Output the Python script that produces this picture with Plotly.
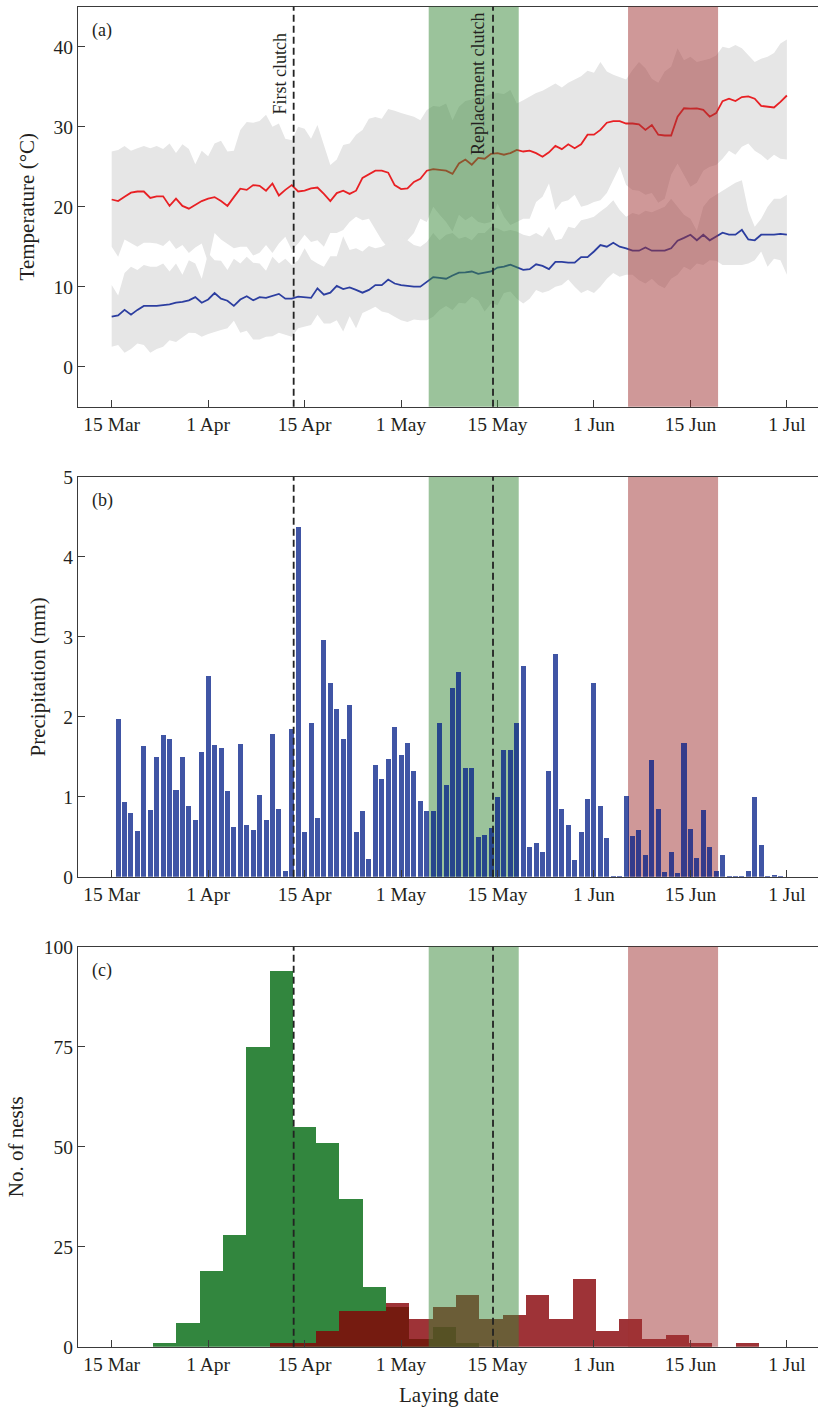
import plotly.graph_objects as go

W, H = 818, 1409

# ---------------- data ----------------
# day index from 15 Mar (0) to day 105
days = list(range(106))
tick_days = [0, 15, 30, 45, 60, 75, 90, 105]
tick_labels = ["15 Mar", "1 Apr", "15 Apr", "1 May", "15 May", "1 Jun", "15 Jun", "1 Jul"]

tmax_mean = [20.9, 20.7, 21.25, 21.75, 21.9, 21.9, 21.1, 21.3, 21.3, 20.1,
             21.0, 20.1, 19.75, 20.2, 20.7, 21.0, 21.2, 20.7, 20.1, 21.2,
             22.25, 22.1, 22.7, 22.6, 22.0, 22.9, 21.4, 22.1, 22.7, 21.9,
             22.0, 22.3, 22.4, 21.6, 20.7, 21.7, 22.0, 21.6, 22.0, 23.6,
             24.0, 24.5, 24.5, 24.25, 22.7, 22.2, 22.3, 23.1, 23.5, 24.5,
             24.7, 24.6, 24.5, 24.1, 25.4, 25.9, 25.25, 26.1, 26.0, 26.6,
             26.7, 26.5, 26.7, 27.1, 26.9, 27.0, 26.7, 26.25, 26.8, 27.6,
             27.2, 27.8, 27.3, 27.8, 29.0, 29.0, 29.6, 30.5, 30.7, 30.7,
             30.4, 30.4, 30.3, 29.6, 30.2, 29.0, 28.9, 28.9, 31.25, 32.3,
             32.25, 32.3, 32.1, 31.25, 31.7, 33.2, 33.5, 33.2, 33.7, 33.8,
             33.5, 32.6, 32.5, 32.4, 33.1, 33.9]

tmin_mean = [6.25, 6.4, 7.1, 6.5, 7.1, 7.6, 7.6, 7.6, 7.7, 7.8,
             8.0, 8.1, 8.3, 8.7, 8.0, 8.4, 9.2, 8.5, 8.25, 7.6,
             8.4, 8.8, 8.3, 8.7, 8.6, 8.9, 9.1, 8.5, 8.5, 8.75,
             8.7, 8.6, 9.8, 9.0, 9.25, 10.1, 9.7, 9.9, 9.6, 9.25,
             9.6, 10.2, 10.2, 10.9, 10.4, 10.2, 10.1, 10.0, 10.0, 10.6,
             11.2, 11.1, 11.0, 11.4, 11.75, 11.8, 11.9, 11.6, 11.75, 11.9,
             12.4, 12.5, 12.75, 12.4, 12.1, 12.2, 12.8, 12.6, 12.2, 13.1,
             13.1, 13.0, 13.0, 13.7, 13.7, 14.4, 15.2, 15.0, 15.5, 15.0,
             14.8, 14.5, 14.5, 14.9, 14.5, 14.5, 14.5, 14.8, 15.75, 16.1,
             16.5, 15.8, 16.5, 15.8, 16.3, 16.75, 16.5, 16.5, 17.1, 15.9,
             15.8, 16.5, 16.5, 16.5, 16.6, 16.5]

tmax_upper = [26.9, 27.1, 27.6, 27.0, 27.3, 27.6, 27.3, 27.6, 27.2, 27.9,
              26.7, 27.8, 27.2, 25.3, 27.0, 26.3, 27.9, 28.25, 26.9, 27.0,
              29.6, 30.6, 30.5, 30.7, 31.5, 30.0, 30.4, 28.5, 28.3, 30.0,
              29.75, 28.5, 30.2, 27.7, 25.2, 25.9, 27.7, 27.9, 29.0, 29.6,
              31.0, 31.2, 31.0, 32.2, 32.0, 31.7, 31.5, 31.25, 30.8, 32.1,
              32.6, 32.5, 32.9, 30.8, 32.5, 33.2, 33.4, 33.75, 33.75, 34.1,
              34.2, 34.1, 34.6, 32.9, 33.3, 33.75, 34.2, 34.5, 34.9, 35.4,
              34.9, 35.5, 35.9, 36.3, 37.0, 36.75, 38.1, 36.9, 36.5, 36.2,
              35.9, 37.1, 38.1, 37.3, 36.0, 35.5, 36.9, 37.5, 39.8, 38.3,
              38.75, 38.1, 38.3, 38.5, 38.9, 40.0, 39.8, 40.2, 39.8, 38.9,
              38.1, 38.5, 38.75, 39.2, 40.4, 40.9]

tmax_lower = [15.0, 13.75, 15.9, 15.5, 15.0, 15.5, 15.5, 15.4, 15.1, 15.8,
              14.7, 15.2, 14.2, 14.9, 15.4, 13.0, 16.7, 15.9, 15.4, 14.8,
              15.0, 15.0, 13.9, 14.25, 15.2, 14.2, 15.4, 16.25, 14.6, 15.4,
              16.5, 15.6, 15.8, 15.0, 16.7, 16.7, 17.1, 18.1, 18.75, 18.3,
              18.5, 17.1, 15.8, 14.8, 15.5, 15.8, 15.8, 16.7, 18.5, 18.1,
              20.0, 19.0, 18.1, 16.9, 19.0, 18.3, 18.8, 18.1, 17.9, 18.1,
              20.4, 18.75, 17.7, 18.1, 18.5, 18.5, 20.6, 21.25, 22.9, 19.6,
              20.6, 20.8, 21.5, 20.0, 20.2, 20.6, 20.8, 21.7, 23.3, 25.0,
              22.7, 22.1, 22.0, 21.5, 21.7, 20.5, 21.0, 24.0, 25.4, 24.0,
              22.5, 23.0, 24.5, 25.0, 25.2, 26.0, 27.0, 26.5, 27.5, 27.9,
              27.0, 26.5, 25.8, 26.5, 26.0, 25.9]

tmin_upper = [10.2, 8.9, 11.7, 12.5, 12.1, 12.7, 12.5, 12.5, 12.9, 11.9,
              12.9, 11.5, 13.3, 12.9, 11.0, 14.2, 13.3, 13.25, 12.1, 13.5,
              12.9, 13.75, 13.0, 12.9, 12.0, 13.75, 12.9, 13.5, 12.7, 13.3,
              14.8, 13.4, 12.9, 12.5, 13.8, 13.8, 16.3, 14.6, 14.8, 14.4,
              15.1, 14.8, 15.0, 15.4, 15.8, 16.3, 15.8, 15.2, 15.0, 15.6,
              16.7, 15.8, 16.5, 16.7, 16.0, 16.25, 15.8, 16.7, 16.7, 17.5,
              17.3, 16.9, 17.1, 16.9, 16.5, 16.3, 16.7, 16.25, 17.5, 15.8,
              16.0, 17.5, 17.3, 18.3, 18.5, 18.75, 19.4, 20.0, 20.8, 19.6,
              18.75, 19.2, 19.0, 19.5, 19.3, 19.6, 20.0, 21.0, 20.0, 19.0,
              18.5, 17.0, 20.0, 21.0, 21.5, 22.0, 22.5, 23.0, 23.3, 19.5,
              17.5, 18.5, 20.0, 21.0, 21.0, 21.5]

tmin_lower = [2.5, 2.7, 1.75, 2.2, 2.9, 2.7, 1.75, 2.2, 2.5, 3.3,
              3.1, 3.7, 4.25, 4.2, 3.75, 4.1, 4.4, 4.6, 4.8, 5.75,
              4.25, 4.5, 3.4, 3.4, 3.75, 3.8, 4.25, 4.0, 3.75, 4.8,
              5.0, 5.2, 6.5, 5.4, 5.4, 5.8, 4.4, 6.3, 4.8, 6.7,
              7.1, 7.5, 6.9, 6.7, 6.25, 5.8, 5.6, 5.9, 5.8, 5.8,
              6.25, 7.1, 7.6, 7.1, 8.0, 7.9, 8.75, 8.3, 6.9, 7.9,
              7.7, 9.2, 9.4, 8.5, 7.9, 8.5, 9.6, 9.25, 9.5, 10.0,
              10.2, 10.9, 10.0, 9.2, 9.6, 9.2, 10.0, 11.0, 11.7, 11.25,
              11.5, 11.5, 10.8, 10.4, 11.0, 10.2, 9.8, 11.0, 11.5, 12.5,
              12.1, 12.9, 12.7, 13.3, 13.25, 12.7, 12.7, 12.7, 12.7, 12.9,
              13.3, 14.4, 12.5, 13.5, 13.3, 11.5]

precip = [0.0, 1.98, 0.94, 0.80, 0.57, 1.64, 0.84, 1.50, 1.77, 1.73, 1.09,
          1.50, 0.89, 0.71, 1.56, 2.51, 1.65, 1.61, 1.07, 0.63, 1.66,
          0.65, 0.59, 1.03, 0.71, 1.79, 0.85, 0.08, 1.85, 4.37, 0.56,
          1.93, 0.74, 2.96, 2.43, 2.10, 1.73, 2.15, 0.56, 0.82, 0.23,
          1.40, 1.22, 1.48, 1.88, 1.52, 1.68, 1.32, 0.95, 0.83, 0.82,
          1.92, 1.15, 2.36, 2.56, 1.36, 1.36, 0.50, 0.52, 0.61, 1.00,
          1.59, 1.59, 1.92, 2.64, 0.38, 0.43, 0.31, 1.33, 2.79, 0.85,
          0.65, 0.21, 0.56, 0.98, 2.43, 0.89, 0.49, 0.01, 0.01, 1.01,
          0.51, 0.59, 0.27, 1.46, 0.85, 0.06, 0.31, 0.05, 1.67, 0.60,
          0.24, 0.84, 0.38, 0.07, 0.28, 0.01, 0.01, 0.01, 0.07, 1.00,
          0.40, 0.01, 0.03, 0.01, 0.0]

# nest counts per laying-date bin (bins of equal width starting at hist_start)
hist_start = 6.42
hist_width = 3.625
first_clutch = [1, 6, 19, 28, 75, 94, 55, 51, 37, 15, 10, 2, 5, 1,
                0, 0, 0, 0, 0, 0, 0, 0, 0, 0, 0, 0]
replacement_clutch = [0, 0, 0, 0, 0, 1, 1, 4, 9, 9, 11, 7, 10, 13,
                      7, 8, 13, 7, 17, 4, 7, 2, 3, 1, 0, 1]
hist_x = [hist_start + hist_width * (i + 0.5) for i in range(len(first_clutch))]

# reference periods (days from 15 Mar)
first_clutch_day = 28.3
replacement_day = 59.3
green_period = (49.3, 63.3)
red_period = (80.3, 94.3)

# ---------------- style ----------------
FONT = "Liberation Serif"
TXT = "#231f20"
AX = "#3a3a3a"
GRAY = "#e6e6e6"
GREEN_BAND = "rgba(55,135,55,0.5)"
RED_BAND = "rgba(159,49,49,0.5)"

def py(px):
    return 1 - px / H

def px_x(px):
    return px / W

x_domain = [78 / W, 1.0]
dom_a = [py(406.7), py(6.7)]
dom_b = [py(876.7), py(476.7)]
dom_c = [py(1346.7), py(946.7)]
x_range = [-5.24, 109.84]

fig = go.Figure()

# panel (a): bands
fig.add_trace(go.Scatter(x=days, y=tmax_lower, mode="lines", line=dict(width=0),
                         hoverinfo="skip", showlegend=False, xaxis="x", yaxis="y"))
fig.add_trace(go.Scatter(x=days, y=tmax_upper, mode="lines", line=dict(width=0),
                         fill="tonexty", fillcolor=GRAY, showlegend=False, xaxis="x", yaxis="y"))
fig.add_trace(go.Scatter(x=days, y=tmin_lower, mode="lines", line=dict(width=0),
                         hoverinfo="skip", showlegend=False, xaxis="x", yaxis="y"))
fig.add_trace(go.Scatter(x=days, y=tmin_upper, mode="lines", line=dict(width=0),
                         fill="tonexty", fillcolor=GRAY, showlegend=False, xaxis="x", yaxis="y"))
fig.add_trace(go.Scatter(x=days, y=tmax_mean, mode="lines", line=dict(color="rgb(232,32,36)", width=1.8),
                         showlegend=False, xaxis="x", yaxis="y"))
fig.add_trace(go.Scatter(x=days, y=tmin_mean, mode="lines", line=dict(color="rgb(44,62,160)", width=1.8),
                         showlegend=False, xaxis="x", yaxis="y"))

# panel (b)
fig.add_trace(go.Bar(x=days, y=precip, width=0.78, marker=dict(color="rgba(0,28,135,0.75)", line=dict(width=0)),
                     showlegend=False, xaxis="x2", yaxis="y2"))

# panel (c)
fig.add_trace(go.Bar(x=hist_x, y=first_clutch, width=hist_width,
                     marker=dict(color="rgb(50,134,62)", line=dict(width=0)),
                     showlegend=False, xaxis="x3", yaxis="y3"))
fig.add_trace(go.Bar(x=hist_x, y=replacement_clutch, width=hist_width,
                     marker=dict(color="rgba(134,0,5,0.8)", line=dict(width=0)),
                     showlegend=False, xaxis="x3", yaxis="y3"))

axis_common = dict(showline=True, linecolor=AX, linewidth=1.3, ticks="inside", ticklen=7,
                   tickwidth=1.2, tickcolor=AX, showgrid=False, zeroline=False, automargin=False,
                   tickfont=dict(family=FONT, size=19.5, color=TXT))

def xax(anchor):
    return dict(domain=x_domain, range=x_range, tickmode="array", tickvals=tick_days,
                ticktext=tick_labels, mirror=True, anchor=anchor, **axis_common)

layout = dict(
    width=W, height=H, margin=dict(l=0, r=0, t=0, b=0, pad=0, autoexpand=False),
    paper_bgcolor="white", plot_bgcolor="white", barmode="overlay", bargap=0,
    font=dict(family=FONT, color=TXT),
    xaxis=xax("y"),
    xaxis2=xax("y2"),
    xaxis3=xax("y3"),
    yaxis=dict(domain=dom_a, range=[-5, 45], tickvals=[0, 10, 20, 30, 40], anchor="x", **axis_common),
    yaxis2=dict(domain=dom_b, range=[0, 5], tickvals=[0, 1, 2, 3, 4, 5], anchor="x2", **axis_common),
    yaxis3=dict(domain=dom_c, range=[0, 100], tickvals=[0, 25, 50, 75, 100], anchor="x3", **axis_common),
)
fig.update_layout(**layout)

shapes = []
for xr, yr, layer in (("x", "y", "above"), ("x2", "y2", "below"), ("x3", "y3", "above")):
    for (a, b), col in ((green_period, GREEN_BAND), (red_period, RED_BAND)):
        shapes.append(dict(type="rect", xref=xr, yref=yr + " domain", x0=a, x1=b, y0=0, y1=1,
                           fillcolor=col, line=dict(width=0), layer=layer))
for xr, yr in (("x", "y"), ("x2", "y2"), ("x3", "y3")):
    for d in (first_clutch_day, replacement_day):
        shapes.append(dict(type="line", xref=xr, yref=yr + " domain", x0=d, x1=d, y0=0, y1=1,
                           line=dict(color="#222", width=1.8, dash="7px,4px"), layer="above"))
fig.update_layout(shapes=shapes)

ann = []
def label(text, xp, yp, size, angle=0):
    ann.append(dict(text=text, xref="paper", yref="paper", x=px_x(xp), y=py(yp),
                    xanchor="center", yanchor="middle", showarrow=False, textangle=angle,
                    font=dict(family=FONT, size=size, color=TXT)))

label("(a)", 102, 30, 18)
label("(b)", 102, 500, 18)
label("(c)", 102, 970, 18)
label("Temperature (°C)", 26.7, 206.7, 21, -90)
label("Precipitation (mm)", 37.5, 677, 21, -90)
label("No. of nests", 15.5, 1146.7, 21, -90)
label("Laying date", 449, 1395, 21)
label("First clutch", 280, 73.5, 18, -90)
label("Replacement clutch", 478.5, 84.5, 18, -90)
fig.update_layout(annotations=ann)

fig.write_html("out.html", include_plotlyjs=True, config={"responsive": False})
